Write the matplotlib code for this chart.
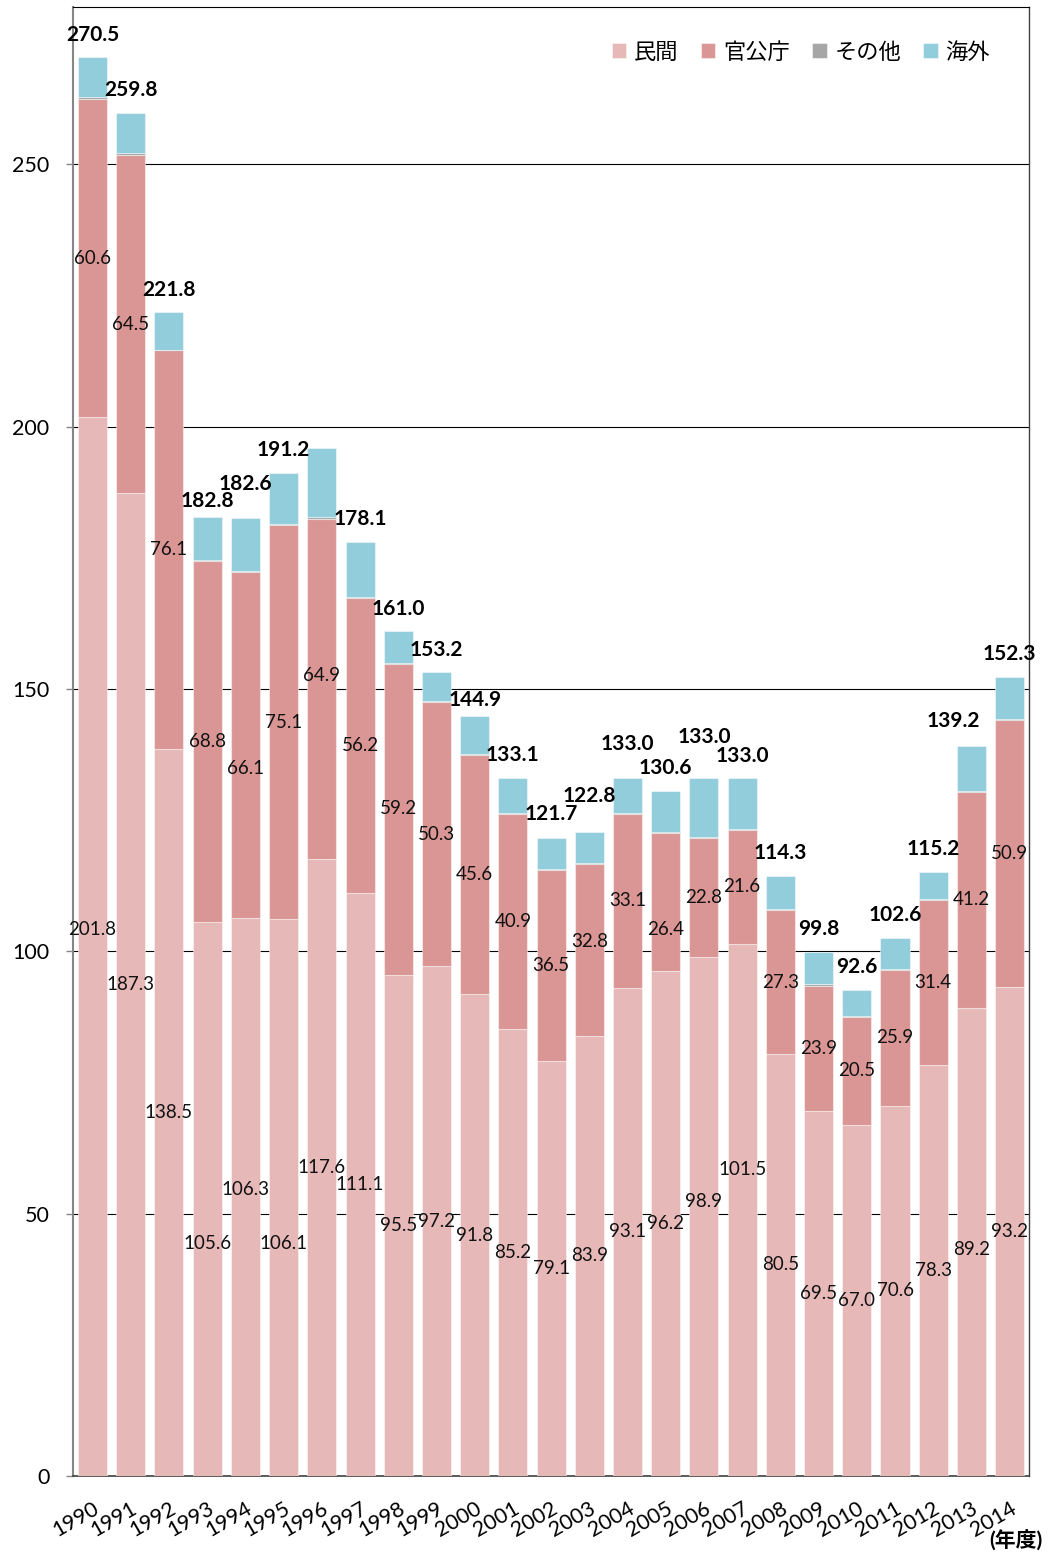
import matplotlib
matplotlib.use("Agg")
import matplotlib.pyplot as plt
import numpy as np

plt.rcParams['font.family'] = ['Lato', 'Noto Sans CJK JP', 'DejaVu Sans']

years = [str(y) for y in range(1990, 2015)]
private = [201.8, 187.3, 138.5, 105.6, 106.3, 106.1, 117.6, 111.1, 95.5, 97.2,
           91.8, 85.2, 79.1, 83.9, 93.1, 96.2, 98.9, 101.5, 80.5, 69.5,
           67.0, 70.6, 78.3, 89.2, 93.2]
government = [60.6, 64.5, 76.1, 68.8, 66.1, 75.1, 64.9, 56.2, 59.2, 50.3,
              45.6, 40.9, 36.5, 32.8, 33.1, 26.4, 22.8, 21.6, 27.3, 23.9,
              20.5, 25.9, 31.4, 41.2, 50.9]
other = [0.5, 0.3, 0.1, 0.2, 0.1, 0.3, 0.3, 0.2, 0.2, 0.2,
         0.2, 0.2, 0.1, 0.1, 0.1, 0.1, 0.1, 0.3, 0.3, 0.3,
         0.1, 0.2, 0.3, 0.1, 0.1]
overseas = [7.6, 7.7, 7.1, 8.2, 10.1, 9.7, 13.1, 10.6, 6.1, 5.5,
            7.3, 6.8, 6.0, 6.0, 6.7, 7.9, 11.2, 9.6, 6.2, 6.1,
            5.0, 5.9, 5.2, 8.7, 8.1]
show_total = [True] * 25
show_total[6] = False  # 1996 total label not shown in the reference

series_names = ['民間', '官公庁', 'その他', '海外']
colors = ['#E6B8B7', '#DA9694', '#A6A6A6', '#92CDDC']

# label placement tweaks (data units) to avoid overlaps, as in the reference
priv_off = [3.2, 0, 0, -8.4, 1.5, -8.8, 0, 0, 0, 0, 0, 0, 0, 0, 0, 0, 2.9, 7.6, 0, 0, 0, 0, 0, -1.5, 0]
gov_off = [0, 0, 0, 0, -4.4, 0, 2.5, 0, 2.1, 0, 0, 0, 0, 1.5, 0, -5.3, 0, 0, 0, 0, 0, 0, 0, 0, 0]
tot_off = [4.2, 4.3, 4.2, 3.0, 6.5, 4.4, 0, 4.4, 4.2, 4.2, 3.0, 4.4, 4.4, 6.9, 6.6, 4.4, 7.9, 4.3,
           4.4, 4.4, 4.4, 4.4, 4.4, 4.8, 4.4]
tot_xoff = [0] * 25
tot_xoff[23] = -0.47

fig = plt.figure(figsize=(10.48, 15.56), dpi=100)
ax = fig.add_axes([0.0697, 0.0514, 0.9123, 0.9441])

x = np.arange(len(years))
w = 0.76
p = np.array(private)
g = np.array(government)
o = np.array(other)
s = np.array(overseas)
bottoms = [np.zeros(len(x)), p, p + g, p + g + o]
vals = [p, g, o, s]
for v, b, c, n in zip(vals, bottoms, colors, series_names):
    ax.bar(x, v, w, bottom=b, color=c, edgecolor=(1, 1, 1, 0.45), linewidth=0.8, label=n, zorder=3)

totals = p + g + o + s
for i in range(len(x)):
    ax.text(x[i], p[i] / 2 + priv_off[i], f"{p[i]:.1f}", ha='center', va='center',
            fontsize=13.5, color='#111111', zorder=5)
    ax.text(x[i], p[i] + g[i] / 2 + gov_off[i], f"{g[i]:.1f}", ha='center', va='center',
            fontsize=13.5, color='#111111', zorder=5)
    if show_total[i]:
        ax.text(x[i] + tot_xoff[i], totals[i] + tot_off[i], f"{round(totals[i], 1):.1f}",
                ha='center', va='center', fontsize=15, fontweight='bold', color='black', zorder=5)

ax.set_xlim(-0.51, len(x) - 0.49)
ax.set_ylim(0, 280)
ax.set_yticks([0, 50, 100, 150, 200, 250])
ax.set_yticklabels(['0', '50', '100', '150', '200', '250'], fontsize=15.5)
ax.yaxis.grid(True, color='black', linewidth=0.8, zorder=0)
ax.set_axisbelow(True)
ax.set_xticks(x)
ax.set_xticklabels(years, rotation=30, ha='right', rotation_mode='anchor', fontsize=15.5)
ax.tick_params(axis='x', length=0, pad=16)
ax.tick_params(axis='y', length=5, width=1, color='#868686', pad=12)
ax.spines['left'].set_color('#868686')
ax.spines['left'].set_linewidth(1.5)
ax.spines['bottom'].set_color('#404040')
ax.spines['bottom'].set_linewidth(1.2)
ax.spines['top'].set_color('black')
ax.spines['top'].set_linewidth(0.8)
ax.spines['right'].set_color('#404040')
ax.spines['right'].set_linewidth(1.0)

leg = ax.legend(loc='upper right', bbox_to_anchor=(0.98, 0.99), ncol=4, frameon=False,
                fontsize=16, handlelength=0.65, handleheight=0.65, handletextpad=0.35,
                columnspacing=1.0)

fig.text(0.995, 0.003, '(年度)', ha='right', va='bottom', fontsize=15, fontweight='bold')

fig.savefig('out.png', dpi=100)
